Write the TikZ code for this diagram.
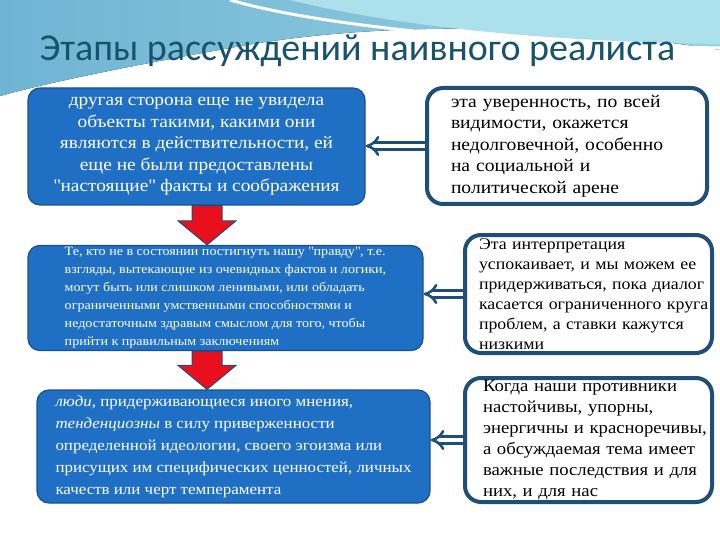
\documentclass[tikz,border=0pt]{standalone}
\usepackage{fontspec}
\setmainfont{Liberation Serif}[FakeStretch=1.1]
\newfontfamily\titlefont{Carlito}
\usetikzlibrary{arrows.meta,calc}

\definecolor{boxblue}{RGB}{31,111,196}
\definecolor{boxedge}{RGB}{27,79,138}
\definecolor{frameblue}{RGB}{31,78,121}
\definecolor{arrowred}{RGB}{232,16,28}
\definecolor{titleteal}{RGB}{24,83,107}
\definecolor{waveleft}{RGB}{112,180,212}
\definecolor{waveright}{RGB}{150,210,226}
\definecolor{wavelight}{RGB}{172,224,234}

\tikzset{
  stagebox/.style={draw=boxedge, line width=1.2pt, fill=boxblue, rounded corners=12pt, text=white, inner ysep=2pt},
  notebox/.style={draw=frameblue, line width=4pt, fill=white, rounded corners=16pt, text=black, align=left, inner ysep=2pt},
  downarrow/.style={draw=frameblue, line width=1pt, fill=arrowred, line join=miter},
  backarrow/.style={draw=frameblue, line width=2.6pt, double=white, double distance=4pt, -{Implies[scale=1.1]}},
}

\begin{document}
\begin{tikzpicture}[x=1pt,y=-1pt]
\useasboundingbox (0,0) rectangle (720,540);
% background wave
\fill[left color=waveleft, right color=waveright] (0,0) -- (720,0) -- (720,50)
  .. controls (560,24) and (380,20) .. (230,48) .. controls (130,66) and (50,82) .. (0,96) -- cycle;
\fill[wavelight] (290,0) .. controls (410,30) and (570,42) .. (720,44) -- (720,0) -- cycle;
\draw[white, line width=3pt] (230,0) .. controls (320,26) and (500,44) .. (720,48);

% title
\node[font=\titlefont\fontsize{38}{42}\selectfont, text=titleteal, anchor=base west] (title) at (36,61) {Этапы рассуждений наивного реалиста};

% left column
\node[stagebox, minimum width=337pt, minimum height=117pt, align=center, font=\fontsize{17.6}{21.5}\selectfont] (a) at (196.5,146.5)
  {другая сторона еще не увидела\\ объекты такими, какими они\\ являются в действительности, ей\\ еще не были предоставлены\\ \textquotedbl настоящие\textquotedbl{} факты и соображения};
\node[stagebox, minimum width=395pt, minimum height=104pt, align=left, font=\fontsize{12.8}{18}\selectfont] (c) at (225.5,298)
  {Те, кто не в состоянии постигнуть нашу \textquotedbl правду\textquotedbl, т.е.\\ взгляды, вытекающие из очевидных фактов и логики,\\ могут быть или слишком ленивыми, или обладать\\ ограниченными умственными способностями и\\ недостаточным здравым смыслом для того, чтобы\\ прийти к правильным заключениям};
\node[stagebox, minimum width=393pt, minimum height=113pt, align=left, font=\fontsize{15.4}{22}\selectfont] (d) at (233.5,446.5)
  {\textit{люди}, придерживающиеся иного мнения,\\ \textit{тенденциозны} в силу приверженности\\ определенной идеологии, своего эгоизма или\\ присущих им специфических ценностей, личных\\ качеств или черт темперамента};

% right column
\node[notebox, minimum width=280pt, minimum height=116pt, text width=232pt, inner xsep=24pt, font=\fontsize{17.8}{21.5}\selectfont] (b) at (567,146)
  {эта уверенность, по всей\\ видимости, окажется\\ недолговечной, особенно\\ на социальной и\\ политической арене};
\node[notebox, minimum width=247pt, minimum height=118pt, text width=219pt, inner xsep=14pt, font=\fontsize{16.2}{20}\selectfont] (e) at (588.5,294)
  {Эта интерпретация\\ \mbox{успокаивает, и мы можем ее}\\ \mbox{придерживаться, пока диалог}\\ \mbox{касается ограниченного круга}\\ \mbox{проблем, а ставки кажутся}\\ низкими};
\node[notebox, minimum width=247pt, minimum height=124pt, text width=211pt, inner xsep=18pt, font=\fontsize{17}{21}\selectfont] (f) at (588.5,440)
  {Когда наши противники\\ настойчивы, упорны,\\ \mbox{энергичны и красноречивы,}\\ \mbox{а обсуждаемая тема имеет}\\ \mbox{важные последствия и для}\\ них, и для нас};

% red arrows down the left column
\foreach \from/\to in {a/c, c/d} {
  \coordinate (t) at (\from.south -| 207,0);
  \coordinate (h) at (\to.north -| 207,0);
  \draw[downarrow] ($(t)+(-15,0)$) -- ($(t)+(15,0)$) -- ($(h)+(15,-24)$) -- ($(h)+(29,-24)$)
    -- (h) -- ($(h)+(-29,-24)$) -- ($(h)+(-15,-24)$) -- cycle;
}

% hollow arrows from right to left
\draw[backarrow] (b.west) -- (b.west -| a.east);
\draw[backarrow] (e.west) -- (e.west -| c.east);
\draw[backarrow] (f.west) -- (f.west -| d.east);
\end{tikzpicture}
\end{document}
